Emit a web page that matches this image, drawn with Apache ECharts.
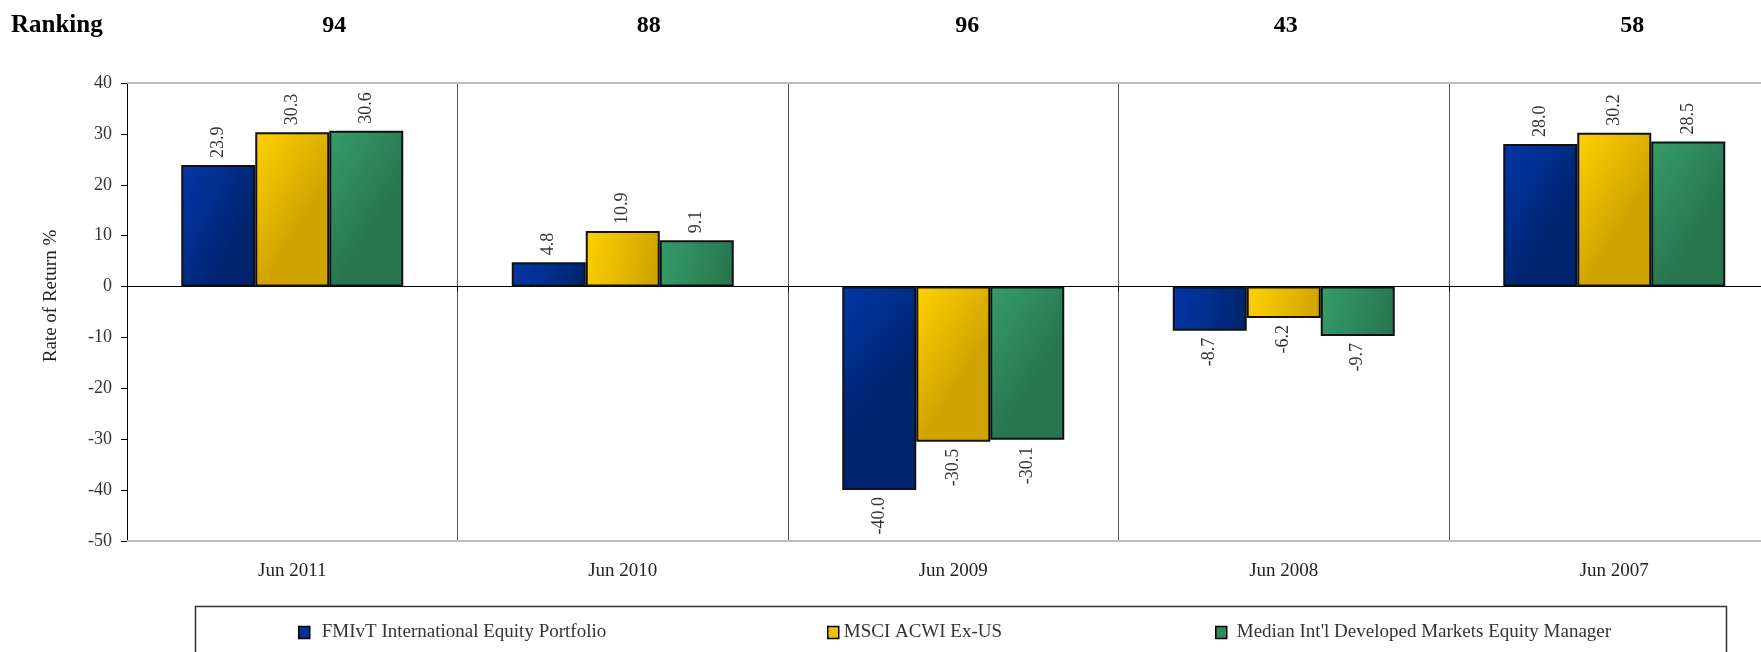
<!DOCTYPE html>
<html>
<head>
<meta charset="utf-8">
<script src="https://cdn.jsdelivr.net/npm/echarts@6/dist/echarts.min.js"></script>
<style>
html,body{margin:0;padding:0;background:#fff;}
#chart{width:1761px;height:652px;}
</style>
</head>
<body>
<div id="chart"></div>
<script>
var categories = ['Jun 2011', 'Jun 2010', 'Jun 2009', 'Jun 2008', 'Jun 2007'];
var rankings = ['94', '88', '96', '43', '58'];
var seriesNames = ['FMIvT International Equity Portfolio', 'MSCI ACWI Ex-US', "Median Int'l Developed Markets Equity Manager"];
var fmivt = [23.9, 4.8, -40.0, -8.7, 28.0];
var msci = [30.3, 10.9, -30.5, -6.2, 30.2];
var median = [30.6, 9.1, -30.1, -9.7, 28.5];
var yTicks = { min: -50, max: 40, interval: 10 };

// styling
var FONT = 'Liberation Serif';
var rankShift = [42, 26, 14, 2, 18];
var fills = [
  ['#0536a6', '#002f8e', '#00236f'],
  ['#ffd000', '#e8bb00', '#d0a400'],
  ['#359c6a', '#2e8a5d', '#287650']
];
var legendFill = ['#003399', '#f0c000', '#2e8b5c'];

function grad(c) {
  return new echarts.graphic.LinearGradient(0, 0, 1, 0.3, [
    { offset: 0, color: c[0] }, { offset: 0.5, color: c[1] }, { offset: 1, color: c[2] }
  ]);
}

function makeData(vals) {
  return vals.map(function (v) {
    if (v < 0) {
      return { value: v, label: { position: 'bottom', align: 'right' } };
    }
    return { value: v };
  });
}

var rich = {};
rankShift.forEach(function (d, i) {
  rich['r' + i] = { fontFamily: FONT, fontWeight: 'bold', fontSize: 24, color: '#000', padding: [0, 0, 0, 2 * d] };
});

var allVals = [fmivt, msci, median];
var series = allVals.map(function (vals, i) {
  return {
    name: seriesNames[i],
    type: 'bar',
    xAxisIndex: 0,
    yAxisIndex: 0,
    barWidth: 74,
    barGap: '0%',
    data: makeData(vals),
    itemStyle: { color: grad(fills[i]), borderColor: '#111', borderWidth: 2 },
    label: {
      show: true,
      position: 'top',
      rotate: 90,
      align: 'left',
      verticalAlign: 'middle',
      distance: 7,
      fontFamily: FONT,
      fontSize: 18,
      color: '#333',
      formatter: function (p) { return p.value.toFixed(1); }
    },
    emphasis: { disabled: true },
    animation: false
  };
});

var legendLefts = [298, 827, 1215];
var legendPads = [7, 0, 5];
var legends = seriesNames.map(function (n, i) {
  return {
    data: [{ name: n, icon: 'rect', itemStyle: { color: legendFill[i], borderColor: '#000', borderWidth: 1.5 } }],
    left: legendLefts[i],
    top: 623,
    padding: 0,
    itemWidth: 11,
    itemHeight: 12,
    selectedMode: false,
    textStyle: { fontFamily: FONT, fontSize: 19, color: '#333', padding: [0, 0, 0, legendPads[i]] }
  };
});

var option = {
  backgroundColor: '#fff',
  animation: false,
  textStyle: { fontFamily: FONT },
  title: {
    text: 'Ranking',
    left: 11,
    top: 13,
    padding: 0,
    textStyle: { fontFamily: FONT, fontWeight: 'bold', fontSize: 25, color: '#000' }
  },
  legend: legends,
  grid: { left: 127, top: 83, width: 1652.5, height: 458, containLabel: false, outerBoundsMode: 'none' },
  xAxis: [
    {
      type: 'category',
      data: categories,
      position: 'bottom',
      axisLine: { onZero: false, lineStyle: { color: '#bdbdbd', width: 2 } },
      axisTick: { show: false },
      axisLabel: { fontFamily: FONT, fontSize: 19, color: '#222', margin: 21 },
      splitLine: { show: true, lineStyle: { color: '#555', width: 1 } }
    },
    {
      type: 'category',
      data: rankings,
      position: 'top',
      axisLine: { onZero: false, lineStyle: { color: '#bdbdbd', width: 2 } },
      axisTick: { show: false },
      axisLabel: {
        margin: 45,
        formatter: function (v, idx) { return '{r' + idx + '|' + v + '}'; },
        rich: rich
      },
      splitLine: { show: false }
    },
    {
      type: 'category',
      data: categories,
      position: 'bottom',
      axisLine: { onZero: true, lineStyle: { color: '#000', width: 1 } },
      axisTick: { show: true, length: 5, lineStyle: { color: '#000' } },
      axisLabel: { show: false },
      splitLine: { show: false }
    }
  ],
  yAxis: {
    type: 'value',
    min: yTicks.min,
    max: yTicks.max,
    interval: yTicks.interval,
    name: 'Rate of Return %',
    nameLocation: 'middle',
    nameGap: 66,
    nameRotate: 90,
    nameTextStyle: { fontFamily: FONT, fontSize: 19, color: '#222', padding: [0, 0, 0, 32] },
    axisLine: { show: true, lineStyle: { color: '#000', width: 1 } },
    axisTick: { show: true, length: 6, lineStyle: { color: '#000' } },
    axisLabel: { fontFamily: FONT, fontSize: 18, color: '#333', margin: 15 },
    splitLine: { show: false }
  },
  graphic: [
    {
      type: 'rect',
      left: 193,
      top: 604,
      shape: { width: 1531, height: 70 },
      style: { fill: 'none', stroke: '#333', lineWidth: 1.5 },
      silent: true,
      z: 0
    }
  ],
  series: series
};

var chart = echarts.init(document.getElementById('chart'), null, { renderer: 'canvas' });
chart.setOption(option);
</script>
</body>
</html>
